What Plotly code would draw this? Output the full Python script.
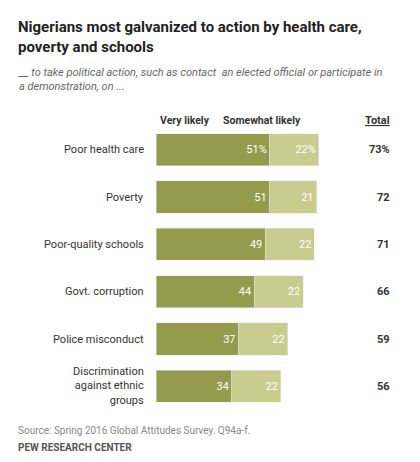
import plotly.graph_objects as go

W, H = 420, 462
categories = ["Poor health care", "Poverty", "Poor-quality schools", "Govt. corruption",
              "Police misconduct", "Discrimination<br>against ethnic<br>groups"]
very_likely = [51, 51, 49, 44, 37, 34]
somewhat_likely = [22, 21, 22, 22, 22, 22]
totals = ["73%", "72", "71", "66", "59", "56"]
vl_text = ["51%", "51", "49", "44", "37", "34"]
sl_text = ["22%", "21", "22", "22", "22", "22"]

DARK = "#949b4d"
LIGHT = "#c9cc8f"

def px(x):
    return x / W

def py(y):
    return 1 - y / H

fig = go.Figure()
fig.add_trace(go.Bar(y=categories, x=very_likely, orientation="h", marker_color=DARK,
                     text=vl_text, textposition="inside", insidetextanchor="end",
                     textfont=dict(color="white", size=11), width=0.68))
fig.add_trace(go.Bar(y=categories, x=somewhat_likely, orientation="h", marker_color=LIGHT,
                     text=sl_text, textposition="inside", insidetextanchor="end",
                     textfont=dict(color="white", size=11), width=0.68))

ann = [
    dict(x=px(8), y=py(8), text="<b>Nigerians most galvanized to action by health care,<br>poverty and schools</b>",
         font=dict(size=15, color="#222"), xanchor="left", yanchor="top", align="left"),
    dict(x=px(8), y=py(56), text="<i>__ to take political action, such as contact  an elected official or participate in<br>a demonstration, on ...</i>",
         font=dict(size=11, color="#666"), xanchor="left", yanchor="top", align="left"),
    dict(x=px(177), y=py(112), text="<b>Very likely</b>", font=dict(size=10.5, color="#333"), yanchor="middle"),
    dict(x=px(295), y=py(112), text="<b>Somewhat likely</b>", font=dict(size=10.5, color="#333"), yanchor="middle"),
    dict(x=px(384), y=py(112), text="<b><u>Total</u></b>", font=dict(size=11, color="#333"), yanchor="middle"),
    dict(x=px(8), y=py(422), text="Source: Spring 2016 Global Attitudes Survey. Q94a-f.",
         font=dict(size=10, color="#888"), xanchor="left", yanchor="middle"),
    dict(x=px(8), y=py(439), text="<b>PEW RESEARCH CENTER</b>",
         font=dict(size=10, color="#555"), xanchor="left", yanchor="middle"),
]
for c, t in zip(categories, totals):
    ann.append(dict(x=px(138), xref="paper", y=c, yref="y", text=c, xanchor="right", align="right",
                    font=dict(size=11, color="#333"), showarrow=False))
    ann.append(dict(x=px(384), xref="paper", y=c, yref="y", text="<b>" + t + "</b>",
                    font=dict(size=11, color="#333"), showarrow=False))
for a in ann:
    a.setdefault("xref", "paper")
    a.setdefault("yref", "paper")
    a.setdefault("showarrow", False)

fig.update_layout(
    barmode="stack", width=W, height=H, showlegend=False,
    margin=dict(l=0, r=0, t=0, b=0),
    paper_bgcolor="white", plot_bgcolor="white",
    font=dict(family="Roboto, Arial", color="#333"),
    xaxis=dict(domain=[px(148), px(371)], range=[0, 100], visible=False),
    yaxis=dict(domain=[py(402), py(118)], autorange="reversed", visible=False),
    annotations=ann,
)
fig.write_html("out.html")
